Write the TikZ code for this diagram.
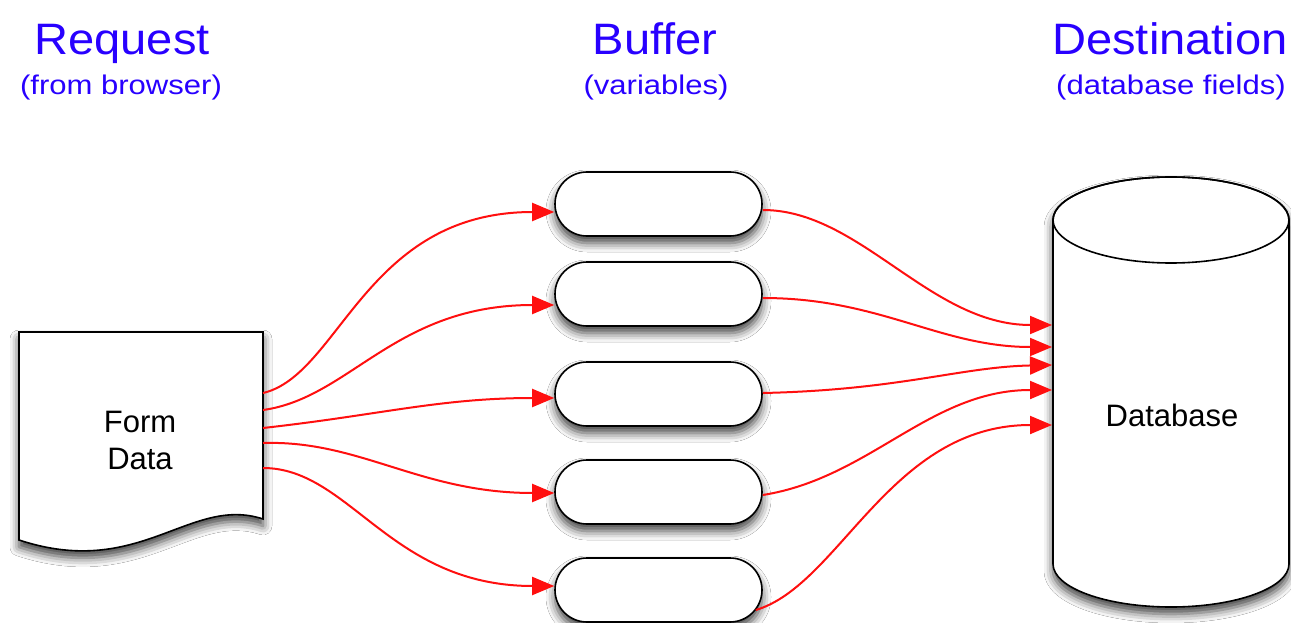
\documentclass[tikz,border=0pt]{standalone}
\usepackage{fontspec}
\setmainfont{Liberation Sans}
\newfontfamily\titlefont[FakeStretch=1.07]{Liberation Sans}
\newfontfamily\subfont[FakeStretch=1.15]{Liberation Sans}
\usetikzlibrary{arrows.meta,shadows.blur}
\definecolor{titleblue}{RGB}{40,0,255}
\definecolor{arrred}{RGB}{255,15,15}
\begin{document}
\begin{tikzpicture}[x=1pt,y=-1pt,
 ttl/.style={text=titleblue, font=\titlefont\fontsize{44}{50}\selectfont, anchor=base, inner sep=0},
 sub/.style={text=titleblue, font=\subfont\fontsize{27}{32}\selectfont, anchor=base, inner sep=0},
 shad/.style={blur shadow={shadow xshift=0pt, shadow yshift=-7pt, shadow blur radius=9pt, shadow opacity=75}},
 outl/.style={draw, line width=1.6pt, fill=white},
 pill/.style={outl, rounded corners=32pt, minimum width=207pt, minimum height=64pt, inner sep=0, shad},
 conn/.style={draw=arrred, line width=2pt, -{Triangle[length=22pt,width=18pt]}},
 lbl/.style={font=\fontsize{31}{37}\selectfont, align=center, inner sep=0}
]
\useasboundingbox[fill=white] (0,0) rectangle (1291,623);

% titles
\node[ttl] (t1) at (122,55) {Request};
\node[sub] (s1) at (121,95) {(from browser)};
\node[ttl] (t2) at (655,55) {Buffer};
\node[sub] (s2) at (656,95) {(variables)};
\node[ttl] (t3) at (1170,55) {Destination};
\node[sub] (s3) at (1171,95) {(database fields)};

% document
\path[outl, shad] (19,332) -- (263,332) -- (263,519)
  .. controls (190,495) and (140,580) .. (19,540) -- cycle;
\node[lbl] (form) at (140,440) {Form\\Data};
\coordinate (d1) at (263,393);
\coordinate (d2) at (263,410);
\coordinate (d3) at (263,428);
\coordinate (d4) at (263,443);
\coordinate (d5) at (263,468);

% buffers
\node[pill] (p1) at (658.5,204) {};
\node[pill] (p2) at (658.5,294) {};
\node[pill] (p3) at (658.5,394) {};
\node[pill] (p4) at (658.5,492) {};
\node[pill] (p5) at (658.5,590) {};

% database cylinder
\path[outl, shad] (1053,220) -- (1053,564)
  arc[start angle=180, end angle=360, x radius=118pt, y radius=43pt]
  -- (1289,220)
  arc[start angle=0, end angle=180, x radius=118pt, y radius=43pt] -- cycle;
\draw[line width=1.6pt] (1171,220) ellipse [x radius=118pt, y radius=43pt];
\node[lbl] (db) at (1172,415) {Database};
\coordinate (c1) at (1052,325);
\coordinate (c2) at (1052,347);
\coordinate (c3) at (1052,365);
\coordinate (c4) at (1052,390);
\coordinate (c5) at (1052,425);

% connectors left
\draw[conn] (d1) .. controls (340,375) and (365,212) .. ([yshift=-8pt]p1.west);
\draw[conn] (d2) .. controls (350,398) and (395,305) .. ([yshift=-11pt]p2.west);
\draw[conn] (d3) .. controls (380,415) and (440,398) .. ([yshift=-4pt]p3.west);
\draw[conn] (d4) .. controls (360,440) and (420,493) .. ([yshift=-1pt]p4.west);
\draw[conn] (d5) .. controls (350,468) and (390,586) .. ([yshift=4pt]p5.west);

% connectors right
\draw[conn] ([yshift=-6pt]p1.east) .. controls (860,210) and (930,325) .. (c1);
\draw[conn] ([yshift=-4pt]p2.east) .. controls (880,298) and (940,347) .. (c2);
\draw[conn] ([yshift=1pt]p3.east) .. controls (900,390) and (960,367) .. (c3);
\draw[conn] ([yshift=-3pt]p4.east) .. controls (870,478) and (930,390) .. (c4);
\draw[conn] ([xshift=-7pt,yshift=-20pt]p5.east) .. controls (840,585) and (890,425) .. (c5);
\end{tikzpicture}
\end{document}
